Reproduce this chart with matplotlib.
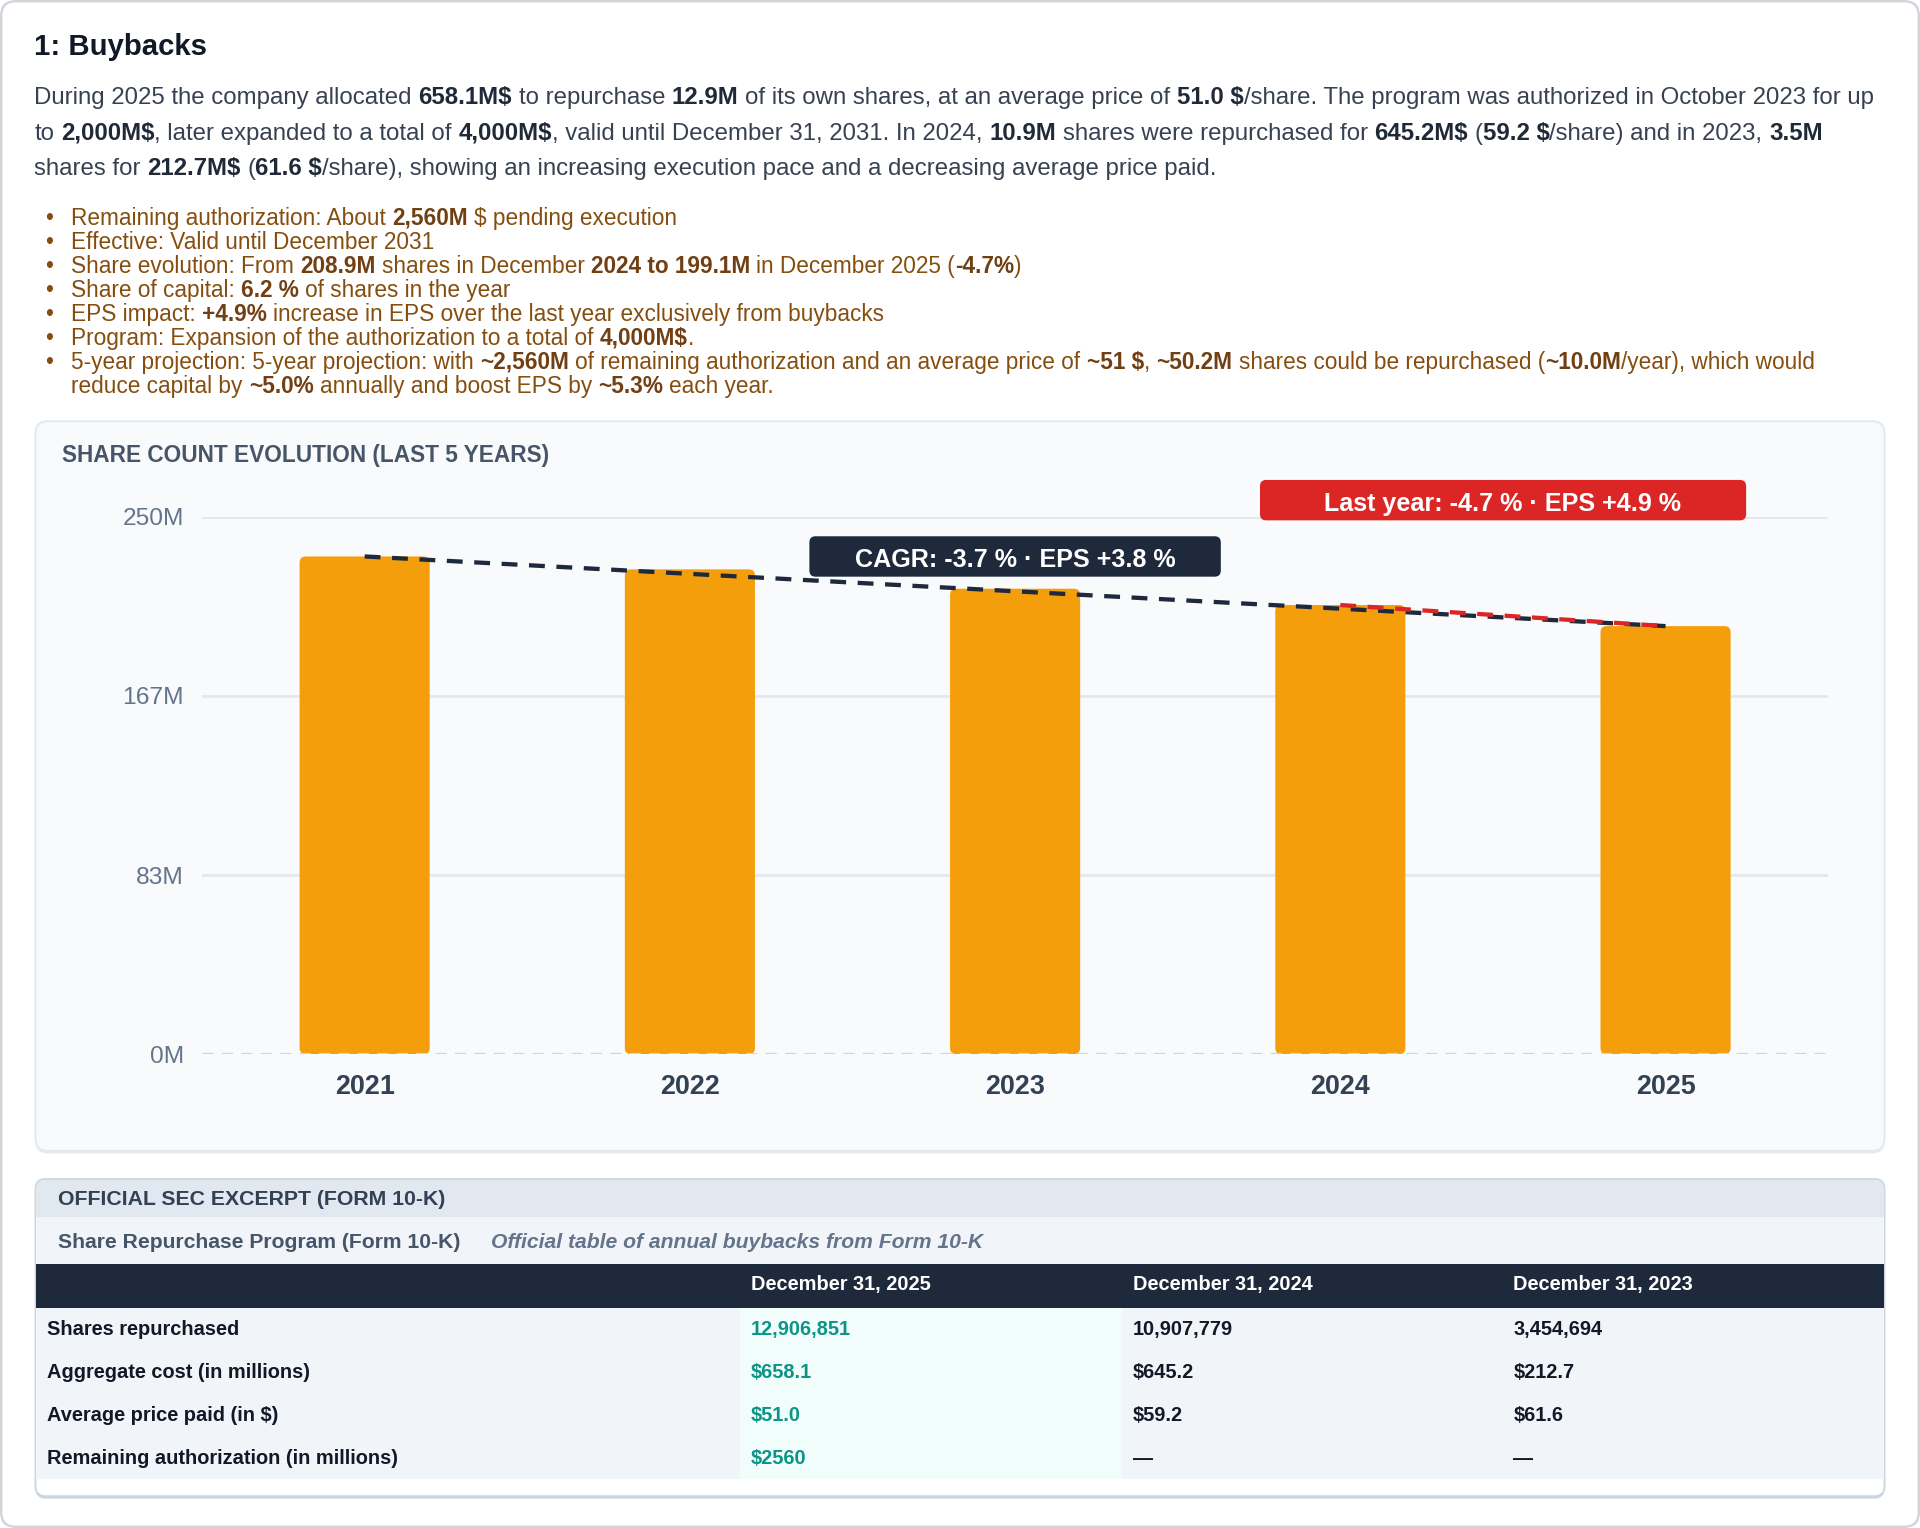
import matplotlib
matplotlib.use('Agg')
import matplotlib.pyplot as plt
from matplotlib.patches import FancyBboxPatch, Rectangle
from matplotlib.font_manager import FontProperties
import numpy as np

plt.rcParams['font.family'] = ['Liberation Sans', 'DejaVu Sans']

#Data
years = ['2021', '2022', '2023', '2024', '2025']
shares_m = [231.5, 225.5, 216.5, 208.9, 199.1]
y_ticks = [0, 250 / 3, 500 / 3, 250]
y_tick_labels = ['0M', '83M', '167M', '250M']
cagr_label = 'CAGR: -3.7 % · EPS +3.8 %'
last_year_label = 'Last year: -4.7 % · EPS +4.9 %'

title = '1: Buybacks'
paragraph = [
    'During 2025 the company allocated **658.1M$** to repurchase **12.9M** of its own shares, at an average price of **51.0 $**/share. The program was authorized in October 2023 for up',
    'to **2,000M$**, later expanded to a total of **4,000M$**, valid until December 31, 2031. In 2024, **10.9M** shares were repurchased for **645.2M$** (**59.2 $**/share) and in 2023, **3.5M**',
    'shares for **212.7M$** (**61.6 $**/share), showing an increasing execution pace and a decreasing average price paid.',
]
bullets = [
    ['Remaining authorization: About **2,560M** $ pending execution'],
    ['Effective: Valid until December 2031'],
    ['Share evolution: From **208.9M** shares in December **2024 to 199.1M** in December 2025 (**-4.7%**)'],
    ['Share of capital: **6.2 %** of shares in the year'],
    ['EPS impact: **+4.9%** increase in EPS over the last year exclusively from buybacks'],
    ['Program: Expansion of the authorization to a total of **4,000M$**.'],
    ['5-year projection: 5-year projection: with **~2,560M** of remaining authorization and an average price of **~51 $**, **~50.2M** shares could be repurchased (**~10.0M**/year), which would',
     'reduce capital by **~5.0%** annually and boost EPS by **~5.3%** each year.'],
]

chart_title = 'SHARE COUNT EVOLUTION (LAST 5 YEARS)'
table_title = 'OFFICIAL SEC EXCERPT (FORM 10-K)'
table_subtitle = 'Share Repurchase Program (Form 10-K)'
table_note = 'Official table of annual buybacks from Form 10-K'
table_cols = ['', 'December 31, 2025', 'December 31, 2024', 'December 31, 2023']
table_rows = ['Shares repurchased', 'Aggregate cost (in millions)', 'Average price paid (in $)', 'Remaining authorization (in millions)']
col_2025 = ['12,906,851', '$658.1', '$51.0', '$2560']
col_2024 = ['10,907,779', '$645.2', '$59.2', '—']
col_2023 = ['3,454,694', '$212.7', '$61.6', '—']

#Layout helpers (work in a 1568 x 1248 grid, output is 1920 x 1528)
W, H = 1568, 1248
S = 1920 / W

def pt(px):
    return px * S * 0.72

fig = plt.figure(figsize=(19.2, 15.28), dpi=100)
fig.patch.set_facecolor('white')
bg = fig.add_axes([0, 0, 1, 1])
bg.set_xlim(0, W)
bg.set_ylim(H, 0)
bg.axis('off')
renderer = fig.canvas.get_renderer()

def box(x0, y0, x1, y1, fc, ec='none', lw=0, r=0, z=1, on=None):
    on = on or bg
    if r > 0:
        p = FancyBboxPatch((x0, y0), x1 - x0, y1 - y0, boxstyle='round,pad=0,rounding_size=%s' % r,
                           fc=fc, ec=ec, lw=lw, zorder=z)
    else:
        p = Rectangle((x0, y0), x1 - x0, y1 - y0, fc=fc, ec=ec, lw=lw, zorder=z)
    on.add_patch(p)

def text_w(s, size, weight='normal', style='normal'):
    fp = FontProperties(family=['Liberation Sans'], size=pt(size), weight=weight, style=style)
    w1 = renderer.get_text_width_height_descent('|' + s + '|', fp, ismath=False)[0]
    w0 = renderer.get_text_width_height_descent('||', fp, ismath=False)[0]
    return (w1 - w0) / S

def txt(x, yc, s, size, color, weight='normal', style='normal', ha='left', on=None):
    on = on or bg
    on.text(x, yc + 0.36 * size, s, fontsize=pt(size), color=color, fontweight=weight,
            fontstyle=style, ha=ha, va='baseline', zorder=5)

def rich(x, yc, s, size, color, bcolor):
    parts = s.split('**')
    for i, part in enumerate(parts):
        if not part:
            continue
        wt = 'bold' if i % 2 else 'normal'
        lead = len(part) - len(part.lstrip(' '))
        body = part.strip(' ')
        if body:
            txt(x + text_w(' ' * lead, size, wt) if lead else x, yc, body, size,
                bcolor if i % 2 else color, weight=wt)
        x += text_w(part, size, wt)

#Outer frame
box(1, 1, W - 1, H - 1, 'white', ec='#d1d5db', lw=pt(2), r=12, z=0)

#Header text
txt(28, 36, title, 24, '#111827', weight='bold')
for k, line in enumerate(paragraph):
    rich(28, 78 + 29 * k, line, 19.6, '#374151', '#1f2937')

by = 177
for item in bullets:
    txt(37, by, '•', 18.5, '#854d0e')
    for line in item:
        rich(58, by, line, 18.5, '#854d0e', '#713f12')
        by += 19.6

#Chart card
box(29, 346, 1539, 942, '#e2e8f0', r=10, z=0.5)
box(29, 344, 1539, 940, '#f8fafc', ec='#e2e8f0', lw=pt(1.5), r=10, z=0.6)
txt(51, 371, chart_title, 18.5, '#475569', weight='bold')

#Bar chart
ax = fig.add_axes([165 / W, 1 - 861 / H, (1493 - 165) / W, (861 - 422) / H])
ax.set_xlim(-0.5, 4.5)
ax.set_ylim(0, 250)
ax.patch.set_alpha(0)
for sp in ax.spines.values():
    sp.set_visible(False)

x = np.arange(len(years))
for yv in y_ticks[1:]:
    ax.axhline(yv, color='#e2e8f0', lw=pt(2.2), zorder=1)

bars = ax.bar(x, shares_m, width=0.4, color='#f59e0b', zorder=2)
px_x = ((1493 - 165) / 5)
px_y = (861 - 422) / 250
r_x = 5 / px_x
for b in bars:
    b.set_visible(False)
    rb = FancyBboxPatch((b.get_x(), 0), b.get_width(), b.get_height(),
                        boxstyle='round,pad=0,rounding_size=%s' % r_x,
                        mutation_aspect=px_x / px_y, fc='#f59e0b', ec='none', zorder=2)
    ax.add_patch(rb)

ax.axhline(0, color='#cbd5e1', lw=pt(2.6), ls=(0, (3.5, 2.6)), zorder=3)

#Trend lines
ax.plot([x[0], x[-1]], [shares_m[0], shares_m[-1]], color='#1e293b', lw=pt(3.5),
        ls=(0, (3.7, 2.7)), zorder=4)
ax.plot([x[-2], x[-1]], [shares_m[-2], shares_m[-1]], color='#dc2626', lw=pt(3.5),
        ls=(0, (3.7, 2.7)), zorder=5)

ax.set_yticks(y_ticks)
ax.set_yticklabels(y_tick_labels, fontsize=pt(20), color='#64748b')
ax.set_xticks(x)
ax.set_xticklabels(years, fontsize=pt(22), fontweight='bold', color='#334155')
ax.tick_params(axis='y', length=0, pad=pt(15))
ax.tick_params(axis='x', length=0, pad=pt(16))

#Annotation badges (overlay on top of the chart)
top = fig.add_axes([0, 0, 1, 1])
top.set_xlim(0, W)
top.set_ylim(H, 0)
top.axis('off')
top.patch.set_alpha(0)
box(661, 438, 997, 471, '#1e293b', r=5, z=3, on=top)
txt(829, 456, cagr_label, 20.5, 'white', weight='bold', ha='center', on=top)
box(1029, 392, 1426, 425, '#dc2626', r=5, z=3, on=top)
txt(1227, 410, last_year_label, 20.5, 'white', weight='bold', ha='center', on=top)

#Table card
box(29, 965, 1539, 1224, '#cbd5e1', r=8, z=0.5)
box(29, 963, 1539, 1222, 'white', ec='#cbd5e1', lw=pt(1.5), r=8, z=0.6)
box(29.8, 963.8, 1538.2, 1000, '#e2e8f0', r=7, z=0.7)
box(29.8, 994, 1538.2, 1032, '#f1f5f9', z=0.8)
box(29.8, 1032, 1538.2, 1068, '#1e293b', z=0.8)
box(29.8, 1068, 1538.2, 1208, '#f1f5f9', z=0.8)

col_x = [29, 604, 916, 1227, 1539]
box(col_x[1], 1068, col_x[2], 1208, '#f0fdfa', z=0.9)

txt(47, 978, table_title, 17.4, '#334155', weight='bold')
txt(47, 1013, table_subtitle, 17.3, '#475569', weight='bold')
txt(401, 1013, table_note, 17.3, '#64748b', weight='bold', style='italic')

for c, name in enumerate(table_cols):
    if name:
        txt(col_x[c] + 9, 1048, name, 16.3, 'white', weight='bold')

row_h = (1208 - 1068) / len(table_rows)
for r, label in enumerate(table_rows):
    yc = 1067 + row_h * (r + 0.5)
    txt(38, yc, label, 16.3, '#111827', weight='bold')
    txt(col_x[1] + 9, yc, col_2025[r], 16.3, '#0d9488', weight='bold')
    txt(col_x[2] + 9, yc, col_2024[r], 16.3, '#111827', weight='bold')
    txt(col_x[3] + 9, yc, col_2023[r], 16.3, '#111827', weight='bold')

fig.savefig('out.png', dpi=100, facecolor='white')
